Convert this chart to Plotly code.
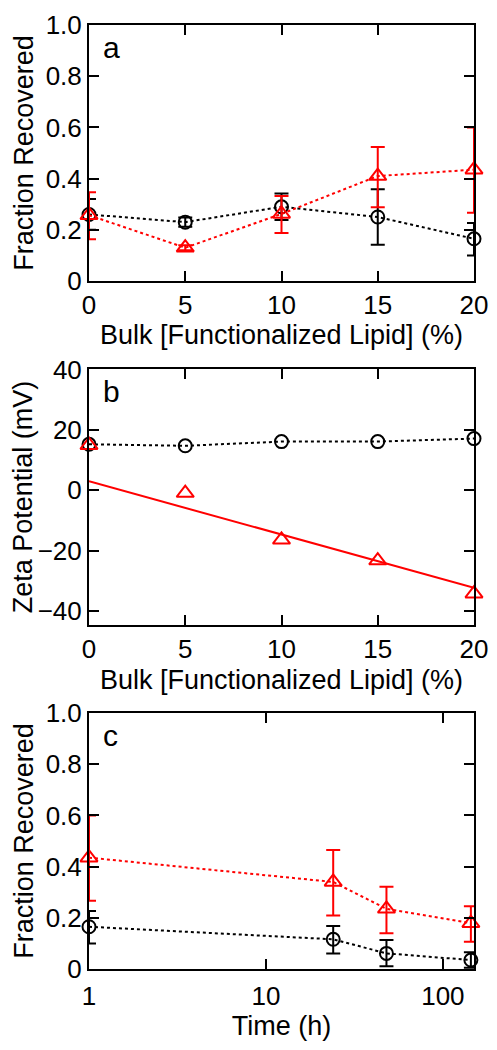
import plotly.graph_objects as go

# Panel a: fraction recovered vs bulk functionalized lipid (%)
lipid_pct = [0, 5, 10, 15, 20]
a_black = [0.26, 0.23, 0.29, 0.25, 0.165]
a_black_hi = [0.06, 0.018, 0.052, 0.108, 0.062]
a_black_lo = [0.06, 0.018, 0.052, 0.108, 0.065]
a_red = [0.257, 0.13, 0.262, 0.41, 0.435]
a_red_hi = [0.09, 0.01, 0.07, 0.113, 0.165]
a_red_lo = [0.094, 0.01, 0.074, 0.122, 0.168]

# Panel b: zeta potential (mV)
b_black = [15.3, 14.8, 16.2, 16.2, 17.2]
b_red = [15.0, -0.9, -16.4, -23.3, -34.3]
fit_x = [0, 20]
fit_y = [3.0, -32.3]

# Panel c: fraction recovered vs time (h)
time_h = [1, 24, 48, 144]
c_black = [0.165, 0.116, 0.061, 0.035]
c_black_hi = [0.062, 0.052, 0.052, 0.03]
c_black_lo = [0.065, 0.055, 0.05, 0.03]
c_red = [0.435, 0.34, 0.235, 0.179]
c_red_hi = [0.165, 0.125, 0.086, 0.066]
c_red_lo = [0.168, 0.131, 0.095, 0.073]

panel_labels = ["a", "b", "c"]

RED = "#ff0000"
BLACK = "#000000"
FONT = "Liberation Sans, Arial, sans-serif"

fig = go.Figure()


def add_series(x, y, hi, lo, color, symbol, size, xa, ya, dash="dot"):
    err = None
    if hi is not None:
        err = dict(type="data", symmetric=False, array=hi, arrayminus=lo,
                   color=color, thickness=2, width=7)
    fig.add_trace(go.Scatter(
        x=x, y=y, xaxis=xa, yaxis=ya, mode="lines+markers",
        line=dict(color=color, width=2, dash=dash),
        marker=dict(symbol=symbol, size=size, color=color,
                    line=dict(color=color, width=2)),
        error_y=err, showlegend=False, cliponaxis=False))


add_series(lipid_pct, a_black, a_black_hi, a_black_lo, BLACK, "circle-open", 13, "x", "y")
add_series(lipid_pct, a_red, a_red_hi, a_red_lo, RED, "triangle-up-open", 15, "x", "y")

add_series(lipid_pct, b_black, None, None, BLACK, "circle-open", 13, "x2", "y2")
fig.add_trace(go.Scatter(x=fit_x, y=fit_y, xaxis="x2", yaxis="y2", mode="lines",
                         line=dict(color=RED, width=2), showlegend=False))
fig.add_trace(go.Scatter(x=lipid_pct, y=b_red, xaxis="x2", yaxis="y2", mode="markers",
                         marker=dict(symbol="triangle-up-open", size=15, color=RED,
                                     line=dict(color=RED, width=2)),
                         showlegend=False, cliponaxis=False))

add_series(time_h, c_black, c_black_hi, c_black_lo, BLACK, "circle-open", 13, "x3", "y3")
add_series(time_h, c_red, c_red_hi, c_red_lo, RED, "triangle-up-open", 15, "x3", "y3")

axis_common = dict(showline=True, linecolor=BLACK, linewidth=2, mirror="ticks",
                   ticks="inside", ticklen=10, tickwidth=2, tickcolor=BLACK,
                   showgrid=False, zeroline=False, automargin=False,
                   tickfont=dict(family=FONT, size=26, color=BLACK))
title_font = dict(family=FONT, size=27, color=BLACK)

lip_title = "Bulk [Functionalized Lipid] (%)"
frac_title = "Fraction Recovered"

# page body has an 8px margin: figure sized to fit the window without scrollbars
fig.update_layout(
    width=481, height=1034,
    margin=dict(l=81, r=15, t=17, b=73),
    paper_bgcolor="white", plot_bgcolor="white",
    font=dict(family=FONT, color=BLACK),
    xaxis=dict(axis_common, domain=[0, 1], anchor="y", range=[0, 20],
               tickvals=[0, 5, 10, 15, 20],
               title=dict(text=lip_title, font=title_font, standoff=5)),
    yaxis=dict(axis_common, domain=[0.7288, 1], anchor="x", range=[0, 1],
               tickvals=[0, 0.2, 0.4, 0.6, 0.8, 1.0],
               ticktext=["0", "0.2", "0.4", "0.6", "0.8", "1.0"],
               title=dict(text=frac_title, font=title_font, standoff=4)),
    xaxis2=dict(axis_common, domain=[0, 1], anchor="y2", range=[0, 20],
                tickvals=[0, 5, 10, 15, 20],
                title=dict(text=lip_title, font=title_font, standoff=7)),
    yaxis2=dict(axis_common, domain=[0.3644, 0.6356], anchor="x2", range=[-44.7, 40.3],
                tickvals=[-40, -20, 0, 20, 40],
                title=dict(text="Zeta Potential (mV)", font=title_font, standoff=4)),
    xaxis3=dict(axis_common, domain=[0, 1], anchor="y3", type="log",
                range=[0, 2.176], tickvals=[1, 10, 100], ticktext=["1", "10", "100"],
                ticklabelstandoff=3,
                title=dict(text="Time (h)", font=title_font, standoff=5)),
    yaxis3=dict(axis_common, domain=[0, 0.2712], anchor="x3", range=[0, 1],
                tickvals=[0, 0.2, 0.4, 0.6, 0.8, 1.0],
                ticktext=["0", "0.2", "0.4", "0.6", "0.8", "1.0"],
                title=dict(text=frac_title, font=title_font, standoff=4)),
)

for label, xr, yr in zip(panel_labels, ["x domain", "x2 domain", "x3 domain"],
                         ["y domain", "y2 domain", "y3 domain"]):
    fig.add_annotation(text=label, xref=xr, yref=yr, x=0.03, y=0.985,
                       xanchor="left", yanchor="top", showarrow=False,
                       font=dict(family=FONT, size=30, color=BLACK))

fig.write_html("out.html")
